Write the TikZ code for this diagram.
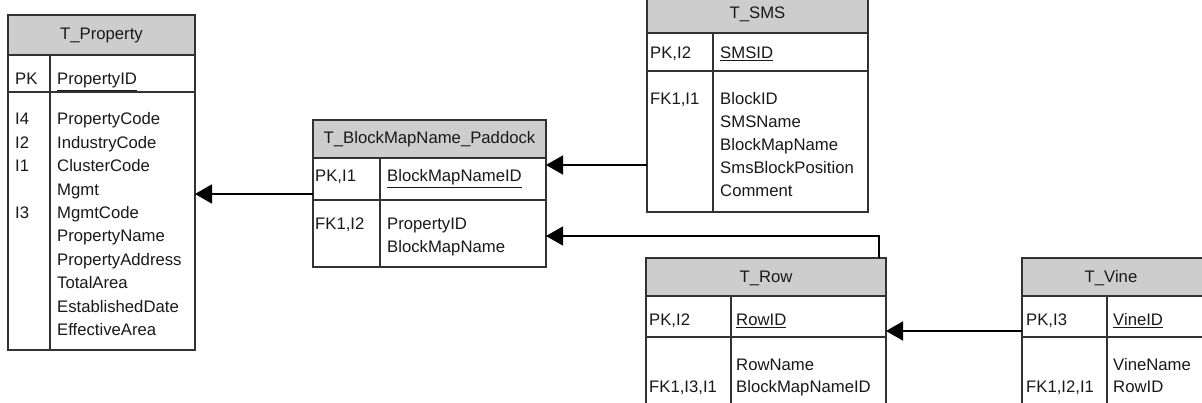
\documentclass[tikz,border=0pt]{standalone}
\usepackage{fontspec}
\setmainfont{Liberation Sans}
\usetikzlibrary{arrows.meta}
\definecolor{hdrgray}{RGB}{205,205,205}
\definecolor{linec}{RGB}{50,50,50}
\definecolor{txtc}{RGB}{25,25,25}
\begin{document}
\begin{tikzpicture}[x=1pt,y=-1pt,
  boxname/.style={inner sep=0pt,outer sep=0pt,anchor=north west,draw=none},
  tline/.style={draw=linec,line width=1.4pt},
  fld/.style={inner sep=0pt,anchor=base west,text=txtc,font=\fontsize{16.7}{23}\selectfont},
  ttl/.style={inner sep=0pt,anchor=base,text=txtc,font=\fontsize{16.7}{23}\selectfont},
  conn/.style={draw=black,-{Triangle[length=17pt,width=19pt]}}
]
\useasboundingbox (0,0) rectangle (1202,403);
\clip (0,0) rectangle (1202,403);
\fill[white] (0,0) rectangle (1202,403);

% ---------- T_Property ----------
\node[boxname,minimum width=187pt,minimum height=335pt] (prop) at (8,15) {};
\fill[hdrgray] (8,15) rectangle (195,55);
\draw[tline] (prop.north west) rectangle (prop.south east);
\draw[tline] (8,55) -- (195,55);
\draw[tline] (8,92) -- (195,92);
\draw[tline] (50,55) -- (50,350);
\node[ttl] (propT) at (101.5,40) {T\_Property};
\node[fld] (propK) at (15,85) {PK};
\node[fld] (propPK) at (57,85) {\underline{PropertyID}};
\node[fld] (propI4) at (15,125) {I4};
\node[fld] (propI2) at (15,148.4) {I2};
\node[fld] (propI1) at (15,171.8) {I1};
\node[fld] (propI3) at (15,218.6) {I3};
\node[fld] (propA1) at (57,125) {PropertyCode};
\node[fld] (propA2) at (57,148.4) {IndustryCode};
\node[fld] (propA3) at (57,171.8) {ClusterCode};
\node[fld] (propA4) at (57,195.2) {Mgmt};
\node[fld] (propA5) at (57,218.6) {MgmtCode};
\node[fld] (propA6) at (57,242) {PropertyName};
\node[fld] (propA7) at (57,265.4) {PropertyAddress};
\node[fld] (propA8) at (57,288.8) {TotalArea};
\node[fld] (propA9) at (57,312.2) {EstablishedDate};
\node[fld] (propA10) at (57,335.6) {EffectiveArea};

% ---------- T_BlockMapName_Paddock ----------
\node[boxname,minimum width=233pt,minimum height=147pt] (bmn) at (313,120) {};
\fill[hdrgray] (313,120) rectangle (546,158);
\draw[tline] (bmn.north west) rectangle (bmn.south east);
\draw[tline] (313,158) -- (546,158);
\draw[tline] (313,200) -- (546,200);
\draw[tline] (380,158) -- (380,267);
\node[ttl] (bmnT) at (429.5,144) {T\_BlockMapName\_Paddock};
\node[fld] (bmnK) at (315,182) {PK,I1};
\node[fld] (bmnPK) at (387,182) {\underline{BlockMapNameID}};
\node[fld] (bmnF) at (315,230) {FK1,I2};
\node[fld] (bmnA1) at (387,230) {PropertyID};
\node[fld] (bmnA2) at (387,253) {BlockMapName};

% ---------- T_SMS ----------
\node[boxname,minimum width=221pt,minimum height=213pt] (sms) at (647,-1) {};
\fill[hdrgray] (647,-1) rectangle (868,33);
\draw[tline] (sms.north west) rectangle (sms.south east);
\draw[tline] (647,33) -- (868,33);
\draw[tline] (647,71) -- (868,71);
\draw[tline] (713,33) -- (713,212);
\node[ttl] (smsT) at (757.5,19) {T\_SMS};
\node[fld] (smsK) at (650,59) {PK,I2};
\node[fld] (smsPK) at (720,59) {\underline{SMSID}};
\node[fld] (smsF) at (650,105) {FK1,I1};
\node[fld] (smsA1) at (720,105) {BlockID};
\node[fld] (smsA2) at (720,128) {SMSName};
\node[fld] (smsA3) at (720,151) {BlockMapName};
\node[fld] (smsA4) at (720,174) {SmsBlockPosition};
\node[fld] (smsA5) at (720,197) {Comment};

% ---------- T_Row ----------
\node[boxname,minimum width=240pt,minimum height=162pt] (row) at (646,258) {};
\fill[hdrgray] (646,258) rectangle (886,296);
\draw[tline] (row.north west) rectangle (row.south east);
\draw[tline] (646,296) -- (886,296);
\draw[tline] (646,337) -- (886,337);
\draw[tline] (731,296) -- (731,420);
\node[ttl] (rowT) at (766,283) {T\_Row};
\node[fld] (rowK) at (649,326) {PK,I2};
\node[fld] (rowPK) at (736,326) {\underline{RowID}};
\node[fld] (rowA1) at (736,370) {RowName};
\node[fld] (rowA2) at (736,392) {BlockMapNameID};
\node[fld] (rowF) at (649,392) {FK1,I3,I1};

% ---------- T_Vine ----------
\node[boxname,minimum width=183pt,minimum height=162pt] (vine) at (1022,258) {};
\fill[hdrgray] (1022,258) rectangle (1205,296);
\draw[tline] (vine.north west) rectangle (vine.south east);
\draw[tline] (1022,296) -- (1205,296);
\draw[tline] (1022,337) -- (1205,337);
\draw[tline] (1107,296) -- (1107,420);
\node[ttl] (vineT) at (1111,283) {T\_Vine};
\node[fld] (vineK) at (1026,326) {PK,I3};
\node[fld] (vinePK) at (1113,326) {\underline{VineID}};
\node[fld] (vineA1) at (1113,370) {VineName};
\node[fld] (vineA2) at (1113,392) {RowID};
\node[fld] (vineF) at (1026,392) {FK1,I2,I1};

% ---------- connectors ----------
\coordinate (c1) at (313,194);
\draw[conn,line width=1.9pt] (c1) -- (prop.east |- c1);
\coordinate (c2) at (647,165);
\draw[conn,line width=1.7pt] (c2) -- (bmn.east |- c2);
\coordinate (c3) at (879,258);
\coordinate (c3b) at (879,236);
\draw[conn,line width=1.3pt] (c3) -- (c3b) -- (bmn.east |- c3b);
\coordinate (c4) at (1022,331);
\draw[conn,line width=1.6pt] (c4) -- (row.east |- c4);
\end{tikzpicture}
\end{document}
